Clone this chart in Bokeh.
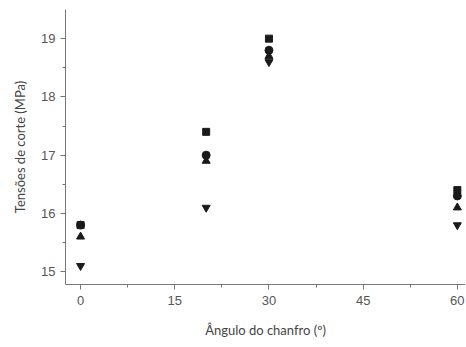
from bokeh.plotting import figure
from bokeh.embed import file_html
from bokeh.resources import INLINE
from bokeh.models import Range1d, FixedTicker

angles = [0, 20, 30, 60]
series_square = [15.8, 17.4, 19.0, 16.4]
series_circle = [15.8, 17.0, 18.8, 16.3]
series_tri_up = [15.6, 16.9, 18.7, 16.1]
series_tri_down = [15.1, 16.1, 18.6, 15.8]
x_ticks = [0, 15, 30, 45, 60]
y_ticks = [15, 16, 17, 18, 19]

p = figure(width=465, height=342, output_backend="svg", toolbar_location=None,
           x_range=Range1d(-2.4, 61.3), y_range=Range1d(14.78, 19.5),
           min_border_left=65, min_border_right=0, min_border_top=9, min_border_bottom=58)
p.outline_line_color = None
p.grid.visible = False

col = "#1a1a1a"
p.scatter(angles, series_square, marker="square", size=7, color=col)
p.scatter(angles, series_circle, marker="circle", size=8, color=col)
p.scatter(angles, series_tri_up, marker="triangle", size=8, color=col)
p.scatter(angles, series_tri_down, marker="inverted_triangle", size=8, color=col)

for ax in (p.xaxis[0], p.yaxis[0]):
    ax.axis_line_color = "#777777"
    ax.major_tick_line_color = "#777777"
    ax.minor_tick_line_color = "#777777"
    ax.major_tick_out = 5
    ax.major_tick_in = 0
    ax.minor_tick_out = 3
    ax.minor_tick_in = 0
    ax.major_label_text_font = "Liberation Sans"
    ax.major_label_text_font_size = "13px"
    ax.major_label_text_color = "#555555"
    ax.axis_label_text_font = "Lato"
    ax.axis_label_text_font_style = "normal"
    ax.axis_label_text_font_size = "13px"
    ax.axis_label_text_color = "#444444"

p.xaxis[0].ticker = FixedTicker(ticks=x_ticks, minor_ticks=[7.5, 22.5, 37.5, 52.5])
p.yaxis[0].ticker = FixedTicker(ticks=y_ticks, minor_ticks=[15.5, 16.5, 17.5, 18.5])
p.xaxis[0].axis_label = "Ângulo do chanfro (º)"
p.yaxis[0].axis_label = "Tensões de corte (MPa)"
p.xaxis[0].axis_label_standoff = 14
p.yaxis[0].axis_label_standoff = 10
p.xaxis[0].major_label_standoff = 6

open("out.html", "w").write(file_html(p, INLINE))
